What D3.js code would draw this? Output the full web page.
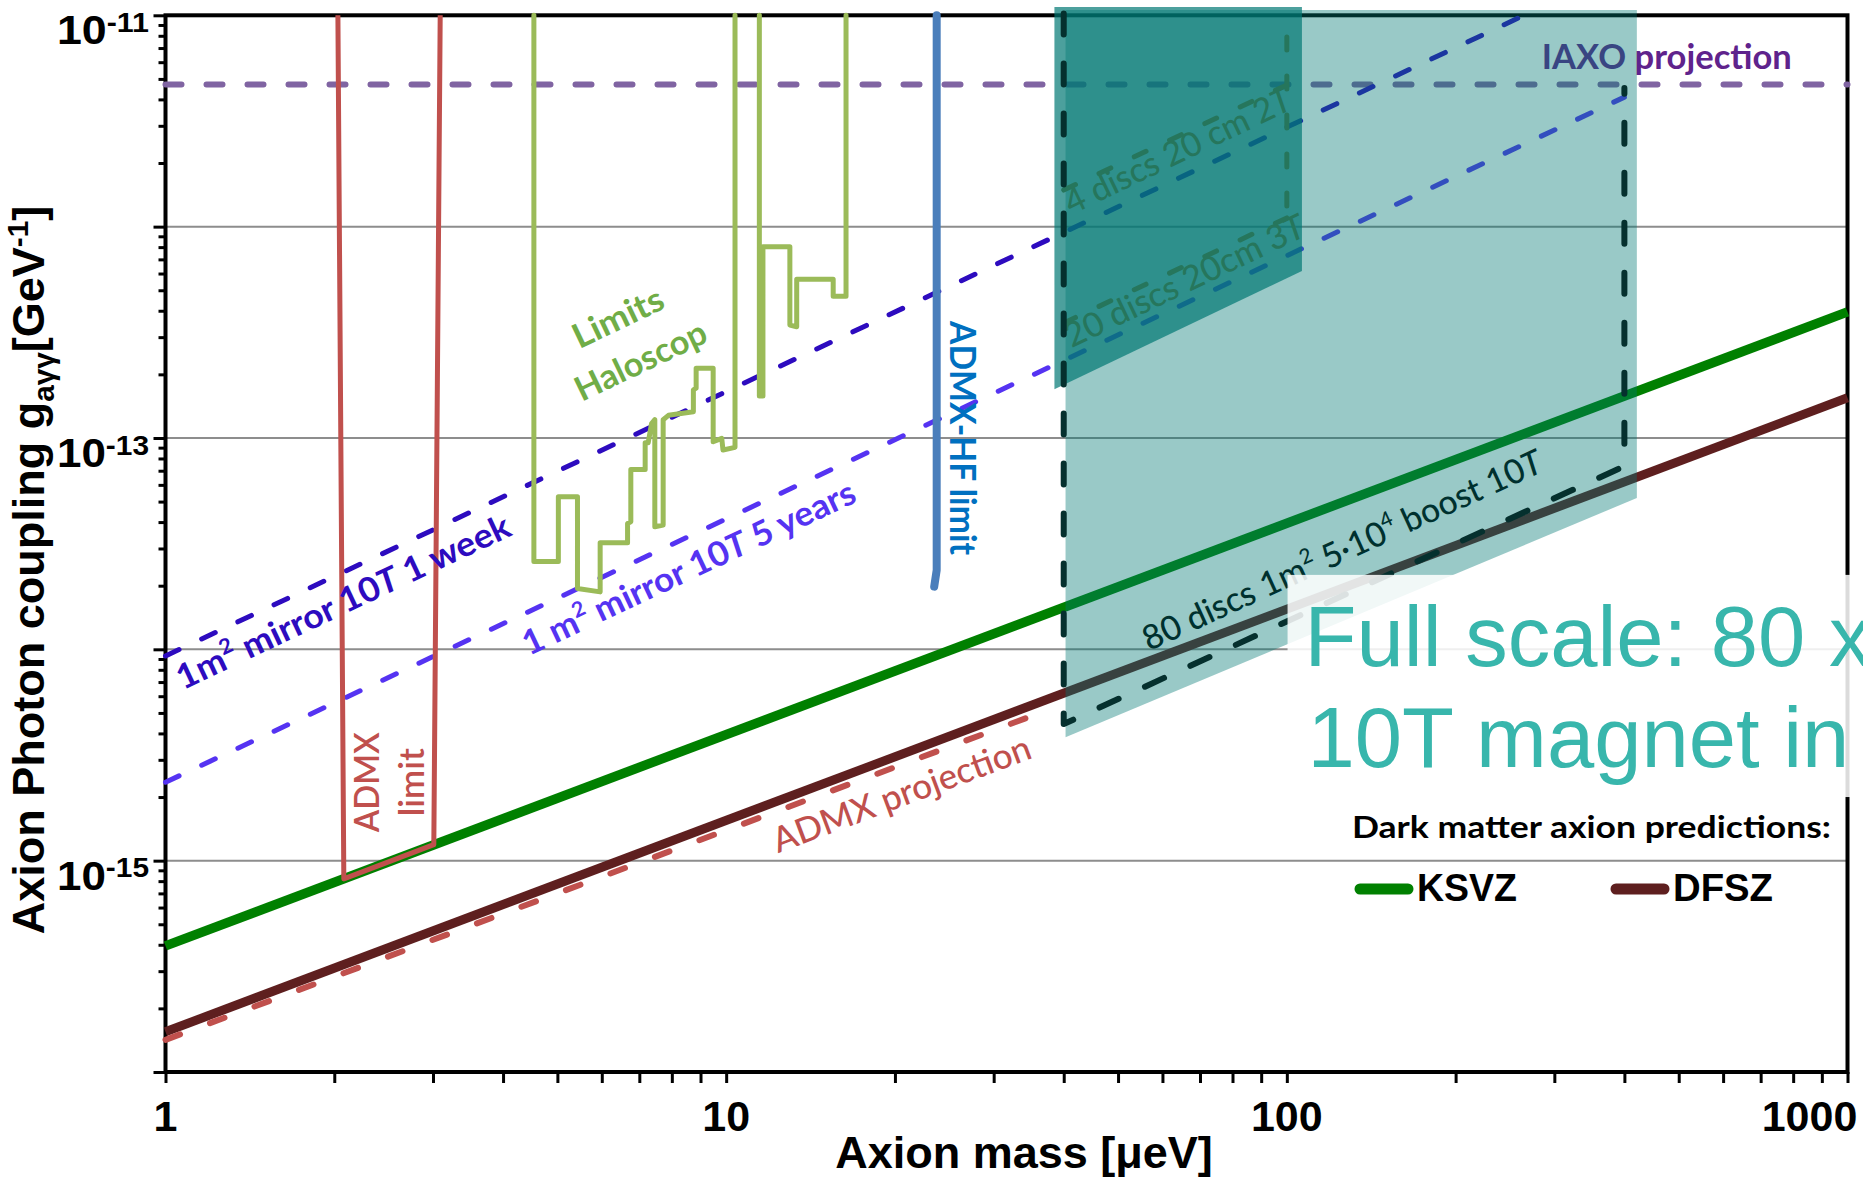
<!DOCTYPE html>
<html>
<head>
<meta charset="utf-8">
<script src="https://cdn.jsdelivr.net/npm/d3@7"></script>
<style>
  html, body { margin: 0; padding: 0; background: #fff; overflow: hidden; }
  svg { display: block; }
</style>
</head>
<body>
<svg id="chart" width="1863" height="1178"></svg>
<script>
// ---------------- data (axion mass in µeV, coupling in GeV^-1) ----------------
const massTickValues = [1, 10, 100, 1000];
const couplingLabelExponents = [-11, -13, -15];
const couplingGridValues = [1e-12, 1e-13, 1e-14, 1e-15];

const ksvz = [[1, 3.95e-16], [1000, 3.95e-13]];
const dfsz = [[1, 1.55e-16], [1000, 1.55e-13]];
const admxProjection = [[1, 1.42e-16], [37, 5.1e-15]];
const iaxoProjection = [[1, 4.7e-12], [1000, 4.7e-12]];
const mirrorOneWeek = [[1, 9.3e-15], [265, 1e-11]];
const mirrorFiveYears = [[1, 2.35e-15], [400, 4.1e-12]];
const admxLimit = [[2.03, 1e-11], [2.08, 8.2e-16], [3.01, 1.19e-15], [3.09, 1e-11]];
const admxHfLimit = [[23.74, 1e-11], [23.74, 2.37e-14], [23.5, 1.98e-14]];

const haloscopeLow = [
  [4.54, 1e-11], [4.54, 2.6e-14], [5.02, 2.6e-14], [5.02, 5.27e-14], [5.43, 5.27e-14],
  [5.43, 1.94e-14], [5.96, 1.87e-14], [5.96, 3.19e-14], [6.67, 3.19e-14], [6.67, 3.94e-14],
  [6.76, 4.01e-14], [6.76, 7.1e-14], [7.17, 7.1e-14], [7.17, 9.49e-14], [7.26, 9.49e-14],
  [7.36, 1.17e-13], [7.46, 1.22e-13], [7.46, 3.8e-14], [7.72, 3.87e-14], [7.72, 1.22e-13],
  [7.89, 1.28e-13], [8.74, 1.33e-13], [8.74, 1.69e-13], [8.84, 1.72e-13], [8.84, 2.14e-13],
  [9.48, 2.14e-13], [9.48, 9.6e-14], [9.82, 9.96e-14], [9.87, 8.77e-14], [10.37, 9.03e-14],
  [10.37, 1e-11]
];
const haloscopeHigh = [
  [11.46, 1e-11], [11.46, 1.58e-13], [11.63, 1.58e-13], [11.63, 8.03e-13], [12.99, 8.03e-13],
  [12.99, 3.42e-13], [13.36, 3.36e-13], [13.36, 5.63e-13], [15.52, 5.63e-13], [15.52, 4.69e-13],
  [16.36, 4.69e-13], [16.36, 1e-11]
];

// full-scale reach (80 discs) and prototype reach (4 / 20 discs)
const fullScaleUpper = [[40.3, 1.06e-11], [421, 1.06e-11], [421, 5.2e-14], [40.3, 5.2e-14]];
const fullScaleLower = [[40.3, 5.2e-14], [421, 5.2e-14], [40.3, 3.84e-15]];
const prototypeUpper = [[38.5, 1.095e-11], [106.4, 1.095e-11], [106.4, 6.17e-13], [38.5, 6.17e-13]];
const prototypeLower = [[38.5, 6.17e-13], [106.4, 6.17e-13], [38.5, 1.7e-13]];
const fullScaleOutline = [[40, 1.02e-11], [40, 4.43e-15], [400, 7.36e-14], [400, 4.53e-12]];
const fourDiscLine = [[40, 1.49e-12], [100, 4.68e-12]];
const twentyDiscLine = [[40, 3.5e-13], [100, 1.1e-12]];
const prototypeEdge = [[100, 7.9e-12], [100, 1.08e-12]];

// ---------------- layout ----------------
const W = 1863, H = 1178;
const X0 = 165.5, X1 = 1847.5, YB = 1072, YT = 15.3;
const svg = d3.select("#chart");
const x = d3.scaleLog().domain([1, 1000]).range([X0, X1]);
const y = d3.scaleLog().domain([1e-16, 1e-11]).range([YB, YT]);
const line = d3.line().x(d => x(d[0])).y(d => y(d[1]));
const isDecade = v => Math.abs(Math.log10(v) - Math.round(Math.log10(v))) < 1e-9;

const CAL = "Lato, 'Open Sans', sans-serif";
const HEL = "'Liberation Sans', Arial, sans-serif";

svg.append("rect").attr("width", W).attr("height", H).attr("fill", "#fff");

// text with optional super/subscripts and italic pieces
function label(parent, px, py, angle, cfg) {
  const size = cfg.size;
  const t = parent.append("text")
    .attr("transform", `translate(${px},${py}) rotate(${angle})`)
    .attr("font-family", cfg.font || CAL)
    .attr("font-size", size)
    .attr("font-weight", cfg.weight || 400)
    .attr("fill", cfg.color)
    .attr("text-anchor", cfg.anchor || "start");
  if (cfg.length) t.attr("textLength", cfg.length).attr("lengthAdjust", "spacingAndGlyphs");
  let shift = 0;
  cfg.parts.forEach(p => {
    const part = typeof p === "string" ? { t: p } : p;
    const target = part.sup ? -(cfg.supRise || 0.42) * size : part.sub ? (cfg.subDrop || 0.22) * size : 0;
    const s = t.append("tspan").text(part.t);
    if (target - shift !== 0) s.attr("dy", target - shift);
    shift = target;
    if (part.sup || part.sub) s.attr("font-size", size * (cfg.smallScale || 0.62));
    if (part.italic) s.attr("font-style", "italic");
  });
  return t;
}

// ---------------- grid, frame, ticks ----------------
const base = svg.append("g");
base.selectAll("line.grid").data(couplingGridValues).join("line")
  .attr("class", "grid")
  .attr("x1", X0).attr("x2", X1)
  .attr("y1", d => y(d)).attr("y2", d => y(d))
  .attr("stroke", "#8d8d8d").attr("stroke-width", 2);

const gy = base.append("g").attr("transform", `translate(${X0},0)`)
  .call(d3.axisLeft(y).tickValues(y.ticks()).tickFormat("").tickSizeOuter(0));
gy.select(".domain").remove();
gy.selectAll(".tick line").attr("x2", d => isDecade(d) ? -12 : -7)
  .attr("stroke", "#000").attr("stroke-width", 3);

const gx = base.append("g").attr("transform", `translate(0,${YB})`)
  .call(d3.axisBottom(x).tickValues(x.ticks()).tickFormat("").tickSizeOuter(0));
gx.select(".domain").remove();
gx.selectAll(".tick line").attr("y2", 11).attr("stroke", "#000").attr("stroke-width", 3);

base.append("rect")
  .attr("x", X0).attr("y", YT).attr("width", X1 - X0).attr("height", YB - YT)
  .attr("fill", "none").attr("stroke", "#000").attr("stroke-width", 4);

// y tick labels 10^-11, 10^-13, 10^-15
couplingLabelExponents.forEach(e => {
  label(base, 149, y(Math.pow(10, e)) + 29, 0, {
    font: HEL, size: 41, weight: 700, color: "#000", anchor: "end", length: 92,
    supRise: 0.3, smallScale: 0.68,
    parts: ["10", { t: String(e), sup: true }]
  });
});

// x tick labels
base.selectAll("text.xt").data(massTickValues).join("text")
  .attr("class", "xt")
  .attr("x", (d, i) => x(d) + (i === massTickValues.length - 1 ? -38 : 0))
  .attr("y", 1131)
  .attr("text-anchor", "middle")
  .attr("font-family", HEL).attr("font-weight", 700).attr("font-size", 43)
  .text(d => String(d));

// axis titles
label(base, 1024, 1168, 0, {
  font: HEL, size: 45, weight: 700, color: "#000", anchor: "middle",
  parts: ["Axion mass [μeV]"]
});
label(base, 44, 570, -90, {
  font: HEL, size: 45, weight: 700, color: "#000", anchor: "middle",
  supRise: 0.36, subDrop: 0.22, smallScale: 0.66,
  parts: ["Axion Photon coupling g", { t: "aγγ", sub: true }, "[GeV", { t: "-1", sup: true }, "]"]
});

// ---------------- curves ----------------
const curves = svg.append("g").attr("fill", "none");

curves.append("path").datum(iaxoProjection).attr("d", line)
  .attr("stroke", "#8064a2").attr("stroke-width", 6)
  .attr("stroke-dasharray", "16 25").attr("stroke-linecap", "round");

curves.append("path").datum(mirrorOneWeek).attr("d", line)
  .attr("stroke", "#2d0bbf").attr("stroke-width", 5)
  .attr("stroke-dasharray", "15 25").attr("stroke-linecap", "round");

curves.append("path").datum(mirrorFiveYears).attr("d", line)
  .attr("stroke", "#5533f2").attr("stroke-width", 5)
  .attr("stroke-dasharray", "15 25").attr("stroke-linecap", "round");

curves.append("path").datum(ksvz).attr("d", line)
  .attr("stroke", "#008000").attr("stroke-width", 9.5);

curves.append("path").datum(dfsz).attr("d", line)
  .attr("stroke", "#5e1f1f").attr("stroke-width", 9);

curves.append("path").datum(admxProjection).attr("d", line)
  .attr("stroke", "#c0504d").attr("stroke-width", 6)
  .attr("stroke-dasharray", "15.5 32").attr("stroke-linecap", "round");

curves.append("path").datum(admxLimit).attr("d", line)
  .attr("stroke", "#c0504d").attr("stroke-width", 5).attr("stroke-linejoin", "round");

[haloscopeLow, haloscopeHigh].forEach(h => {
  curves.append("path").datum(h).attr("d", line)
    .attr("stroke", "#9bbb59").attr("stroke-width", 5)
    .attr("stroke-linejoin", "round").attr("stroke-linecap", "round");
});

curves.append("path").datum(admxHfLimit).attr("d", line)
  .attr("stroke", "#4a7ebb").attr("stroke-width", 8)
  .attr("stroke-linejoin", "round").attr("stroke-linecap", "round");

// ---------------- labels under the shaded reach ----------------
const labels = svg.append("g");

label(labels, x(1.075), y(6.41e-15), -25.2, {
  size: 34, weight: 700, color: "#2d0bbf", length: 365,
  parts: ["1m", { t: "2", sup: true }, " mirror 10", { t: "T", italic: true }, " 1 week"]
});
label(labels, x(4.45), y(9.29e-15), -25.2, {
  size: 34, weight: 700, color: "#5533f2", length: 364,
  parts: ["1 m", { t: "2", sup: true }, " mirror 10", { t: "T", italic: true }, " 5 years"]
});
label(labels, x(12.37), y(1.085e-15), -20.5, {
  size: 35, weight: 500, color: "#c0504d", length: 273,
  parts: ["ADMX projection"]
});
label(labels, x(2.403), y(2.35e-15), -90, {
  size: 35, weight: 600, color: "#c0504d", anchor: "middle", length: 100,
  parts: ["ADMX"]
});
label(labels, x(2.891), y(2.35e-15), -90, {
  size: 35, weight: 600, color: "#c0504d", anchor: "middle", length: 68,
  parts: ["limit"]
});
label(labels, x(25.07), y(1e-13), 90, {
  size: 36, weight: 700, color: "#0070c0", anchor: "middle", length: 234,
  parts: ["ADMX-HF limit"]
});
label(labels, x(5.47), y(2.63e-13), -25.5, {
  size: 34, weight: 700, color: "#70ad47", length: 97,
  parts: ["Limits"]
});
label(labels, x(5.525), y(1.48e-13), -25.5, {
  size: 34, weight: 700, color: "#70ad47", length: 142,
  parts: ["Haloscop"]
});
label(labels, x(285), y(5.57e-12), 0, {
  size: 35, weight: 700, color: "#5f238c", length: 250,
  parts: ["IAXO projection"]
});
label(labels, x(56.8), y(9.8e-15), -24.5, {
  size: 34, weight: 500, color: "#000", length: 435,
  parts: ["80 discs 1m", { t: "2", sup: true }, " 5·10", { t: "4", sup: true }, " boost 10", { t: "T", italic: true }]
});

// ---------------- full-scale reach ----------------
const reach = svg.append("g");
[fullScaleUpper, fullScaleLower].forEach(p => {
  reach.append("path").attr("d", line(p) + "Z")
    .attr("fill", "rgb(0,120,115)").attr("fill-opacity", 0.4);
});

// prototype reach lines and labels (olive), then the darker prototype band
const proto = svg.append("g");
[fourDiscLine, twentyDiscLine, prototypeEdge].forEach(p => {
  proto.append("path").datum(p).attr("d", line).attr("fill", "none")
    .attr("stroke", "#7f7426").attr("stroke-width", 5)
    .attr("stroke-dasharray", "13 26").attr("stroke-linecap", "round");
});
label(proto, x(41.3), y(1.135e-12), -25.6, {
  size: 34, weight: 500, color: "#7f7426", length: 247,
  parts: ["4 discs 20 cm 2", { t: "T", italic: true }]
});
label(proto, x(41.3), y(2.655e-13), -25.6, {
  size: 34, weight: 500, color: "#7f7426", length: 262,
  parts: ["20 discs 20cm 3", { t: "T", italic: true }]
});
[prototypeUpper, prototypeLower].forEach(p => {
  proto.append("path").attr("d", line(p) + "Z")
    .attr("fill", "rgb(0,120,115)").attr("fill-opacity", 0.7);
});

// 80-disc sensitivity outline
svg.append("path").datum(fullScaleOutline).attr("d", line).attr("fill", "none")
  .attr("stroke", "#05302e").attr("stroke-width", 6)
  .attr("stroke-dasharray", "21 29").attr("stroke-linecap", "round")
  .attr("stroke-linejoin", "round");

// ---------------- "Full scale" note ----------------
const boxX = x(100.3), boxY = y(2.25e-14), boxB = y(2.0e-15);
const note = svg.append("g");
note.append("rect").attr("x", boxX).attr("y", boxY)
  .attr("width", W - boxX).attr("height", boxB - boxY)
  .attr("fill", "#fff").attr("fill-opacity", 0.86);
label(note, boxX + 17, boxY + 91, 0, {
  font: HEL, size: 85, weight: 400, color: "#38b6ac",
  parts: ["Full scale: 80 x"]
});
label(note, boxX + 20, boxY + 192, 0, {
  font: HEL, size: 85, weight: 400, color: "#38b6ac",
  parts: ["10T magnet in"]
});

// ---------------- legend ----------------
const legend = svg.append("g");
label(legend, 1352, 838, 0, {
  size: 31, weight: 700, color: "#000", length: 479,
  parts: ["Dark matter axion predictions:"]
});
const legendItems = [
  { name: "KSVZ", color: "#008000", x0: 1360 },
  { name: "DFSZ", color: "#5e1f1f", x0: 1616 }
];
legendItems.forEach(it => {
  legend.append("line").attr("x1", it.x0).attr("x2", it.x0 + 48)
    .attr("y1", 889).attr("y2", 889)
    .attr("stroke", it.color).attr("stroke-width", 11).attr("stroke-linecap", "round");
  label(legend, it.x0 + 57, 901, 0, {
    font: HEL, size: 38, weight: 700, color: "#000", length: 100,
    parts: [it.name]
  });
});
</script>
</body>
</html>
